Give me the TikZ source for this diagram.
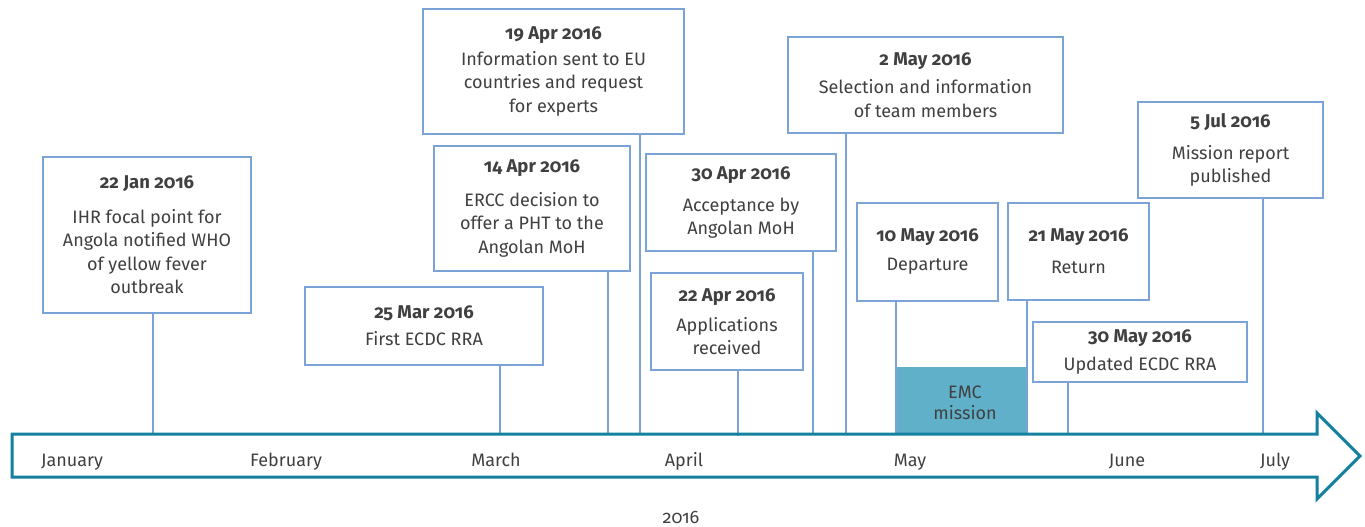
\documentclass[tikz,border=0pt]{standalone}
\usepackage{fontspec}
\setmainfont{Fira Sans}[Numbers=OldStyle]
\definecolor{boxline}{HTML}{7CA3D8}
\definecolor{axisteal}{HTML}{13809E}
\definecolor{emcfill}{HTML}{60B0C9}
\definecolor{txt}{HTML}{404040}
\tikzset{
  evt/.style={draw=boxline, line width=1.5pt, fill=white, rectangle, align=center,
    inner sep=0pt, text=txt, font=\fontsize{18}{23.5}\selectfont},
  conn/.style={draw=boxline, line width=1.5pt},
  axisarrow/.style={draw=axisteal, line width=3pt, line join=miter},
  month/.style={anchor=base, text=txt, font=\fontsize{18}{22}\selectfont, inner sep=0pt},
  emcbox/.style={fill=emcfill, draw=none, inner sep=0pt},
  emctext/.style={align=center, text=txt, inner sep=0pt, font=\fontsize{18}{21}\selectfont}
}
% #1 name, #2 left, #3 top, #4 right, #5 bottom, #6 gap, #7 date, #8 text
\newcommand\evbox[8]{%
  \node[evt, minimum width={#4-#2}, minimum height={#5-#3}] (#1)
    at ({(#2+#4)/2},{(#3+#5)/2}) {\textbf{\fontsize{18.5}{23.5}\selectfont #7}\\[#6pt] #8};}
\begin{document}
\begin{tikzpicture}[x=1pt,y=-1pt]
\useasboundingbox (0,0) rectangle (1365,527);

% event boxes
\evbox{jan22}{43}{157}{251}{313}{11}{22 Jan 2016}{IHR focal point for\\Angola notified WHO\\of yellow fever\\outbreak}
\evbox{mar25}{305}{287}{543}{365}{3.5}{25 Mar 2016}{First ECDC RRA}
\evbox{apr14}{434}{146}{630}{271}{10}{14 Apr 2016}{ERCC decision to\\offer a PHT to the\\Angolan MoH}
\evbox{apr19}{423}{9}{684}{134}{2.5}{19 Apr 2016}{Information sent to EU\\countries and request\\for experts}
\evbox{apr30}{646}{154}{836}{251}{8.5}{30 Apr 2016}{Acceptance by\\Angolan MoH}
\evbox{apr22}{651}{273}{803}{370}{6.5}{22 Apr 2016}{Applications\\received}
\evbox{may2}{788}{37}{1063}{133}{4.5}{2 May 2016}{Selection and information\\of team members}
\evbox{may10}{857}{203}{998}{301}{5.5}{10 May 2016}{Departure}
\evbox{may21}{1008}{203}{1149}{300}{8.5}{21 May 2016}{Return}
\evbox{may30}{1033}{322}{1247}{382}{4.5}{30 May 2016}{Updated ECDC RRA}
\evbox{jul5}{1138}{102}{1323}{198}{8.5}{5 Jul 2016}{Mission report\\published}

% EMC mission block
\node[emcbox, minimum width=129, minimum height=67] (emc) at (961.5,400.5) {};
\node[emctext] (emclabel) at (965,403) {EMC\\mission};

% connector foot points on the axis
\coordinate (t1) at (153,434);
\coordinate (t2) at (500,434);
\coordinate (t3) at (608,434);
\coordinate (t4) at (640,434);
\coordinate (t5) at (813,434);
\coordinate (t6) at (738,436);
\coordinate (t7) at (846,434);
\coordinate (t8) at (896,434);
\coordinate (t9) at (1027,434);
\coordinate (t10) at (1068,434);
\coordinate (t11) at (1263,434);

\draw[conn] (jan22.south -| t1) -- (t1);
\draw[conn] (mar25.south -| t2) -- (t2);
\draw[conn] (apr14.south -| t3) -- (t3);
\draw[conn] (apr19.south -| t4) -- (t4);
\draw[conn] (apr30.south -| t5) -- (t5);
\draw[conn] (apr22.south -| t6) -- (t6);
\draw[conn] (may2.south -| t7) -- (t7);
\draw[conn] (may10.south -| t8) -- (t8);
\draw[conn] (may21.south -| t9) -- (t9);
\draw[conn] (may30.south -| t10) -- (t10);
\draw[conn] (jul5.south -| t11) -- (t11);

% timeline arrow
\draw[axisarrow] (12,434) -- (1317,434) -- (1317,413) -- (1360,456)
  -- (1317,499) -- (1317,477) -- (12,477) -- cycle;

% month labels
\node[month] (m1) at (72,466) {January};
\node[month] (m2) at (286,466) {February};
\node[month] (m3) at (496,466) {March};
\node[month] (m4) at (684,466) {April};
\node[month] (m5) at (910,466) {May};
\node[month] (m6) at (1127,466) {June};
\node[month] (m7) at (1275,466) {July};

\node[month] (yr) at (681,523) {2016};
\end{tikzpicture}
\end{document}
